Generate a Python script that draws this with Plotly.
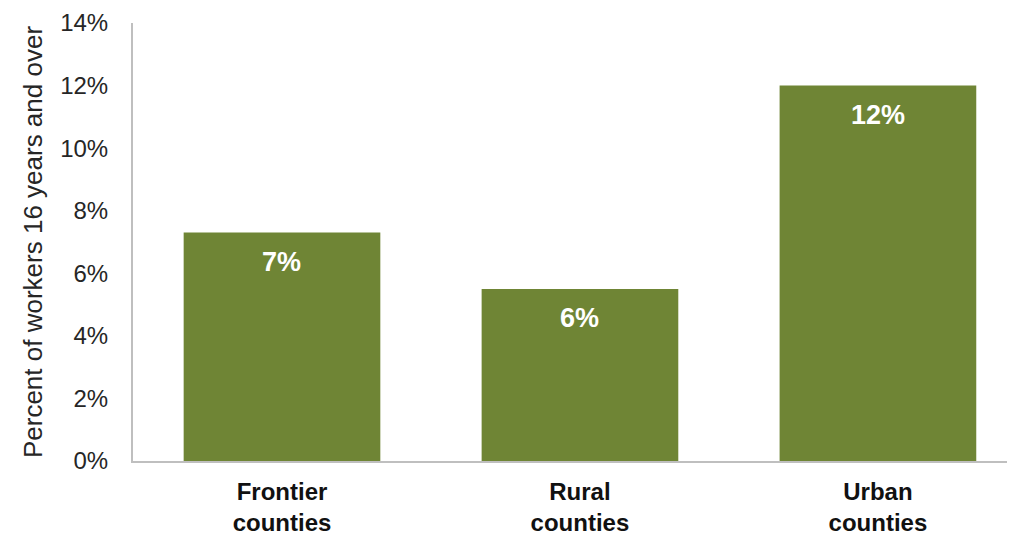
import plotly.graph_objects as go

categories = ["<b>Frontier</b><br><b>counties</b>", "<b>Rural</b><br><b>counties</b>", "<b>Urban</b><br><b>counties</b>"]
values = [7.3, 5.5, 12.0]
labels = ["7%", "6%", "12%"]
tick_vals = [0, 2, 4, 6, 8, 10, 12, 14]
tick_text = ["0%", "2%", "4%", "6%", "8%", "10%", "12%", "14%"]

BAR = "#6f8535"
FONT = "Liberation Sans, Arial"

fig = go.Figure()
fig.add_trace(go.Bar(x=list(range(len(categories))), y=values, width=0.66,
                     marker=dict(color=BAR, line=dict(width=0)), hoverinfo="skip"))

for i, (v, t) in enumerate(zip(values, labels)):
    fig.add_annotation(x=i, y=v, text=f"<b>{t}</b>", showarrow=False, yanchor="top",
                       yshift=-12, font=dict(family=FONT, size=27, color="white"))

fig.update_layout(
    width=1015, height=537,
    margin=dict(l=125, r=8, t=15, b=84),
    paper_bgcolor="white", plot_bgcolor="white",
    showlegend=False,
    font=dict(family=FONT, color="#262626"),
    xaxis=dict(range=[-0.5, 2.46], tickvals=list(range(len(categories))), ticktext=categories,
               tickfont=dict(size=24, color="#111111"), showline=True, linecolor="#bfbfbf",
               linewidth=2, ticks="", showgrid=False, zeroline=False, fixedrange=True,
               ticklabelstandoff=8, automargin=False),
    yaxis=dict(range=[0, 14], tickvals=tick_vals, ticktext=tick_text, showline=True,
               linecolor="#bfbfbf", linewidth=2, ticks="", showgrid=False, zeroline=False,
               tickfont=dict(size=24, color="#262626"), ticklabelstandoff=18,
               ticklabeloverflow="allow", automargin=False,
               title=dict(text="Percent of workers 16 years and over", font=dict(size=26, color="#262626"),
                          standoff=10)),
)

fig.write_html("out.html")
